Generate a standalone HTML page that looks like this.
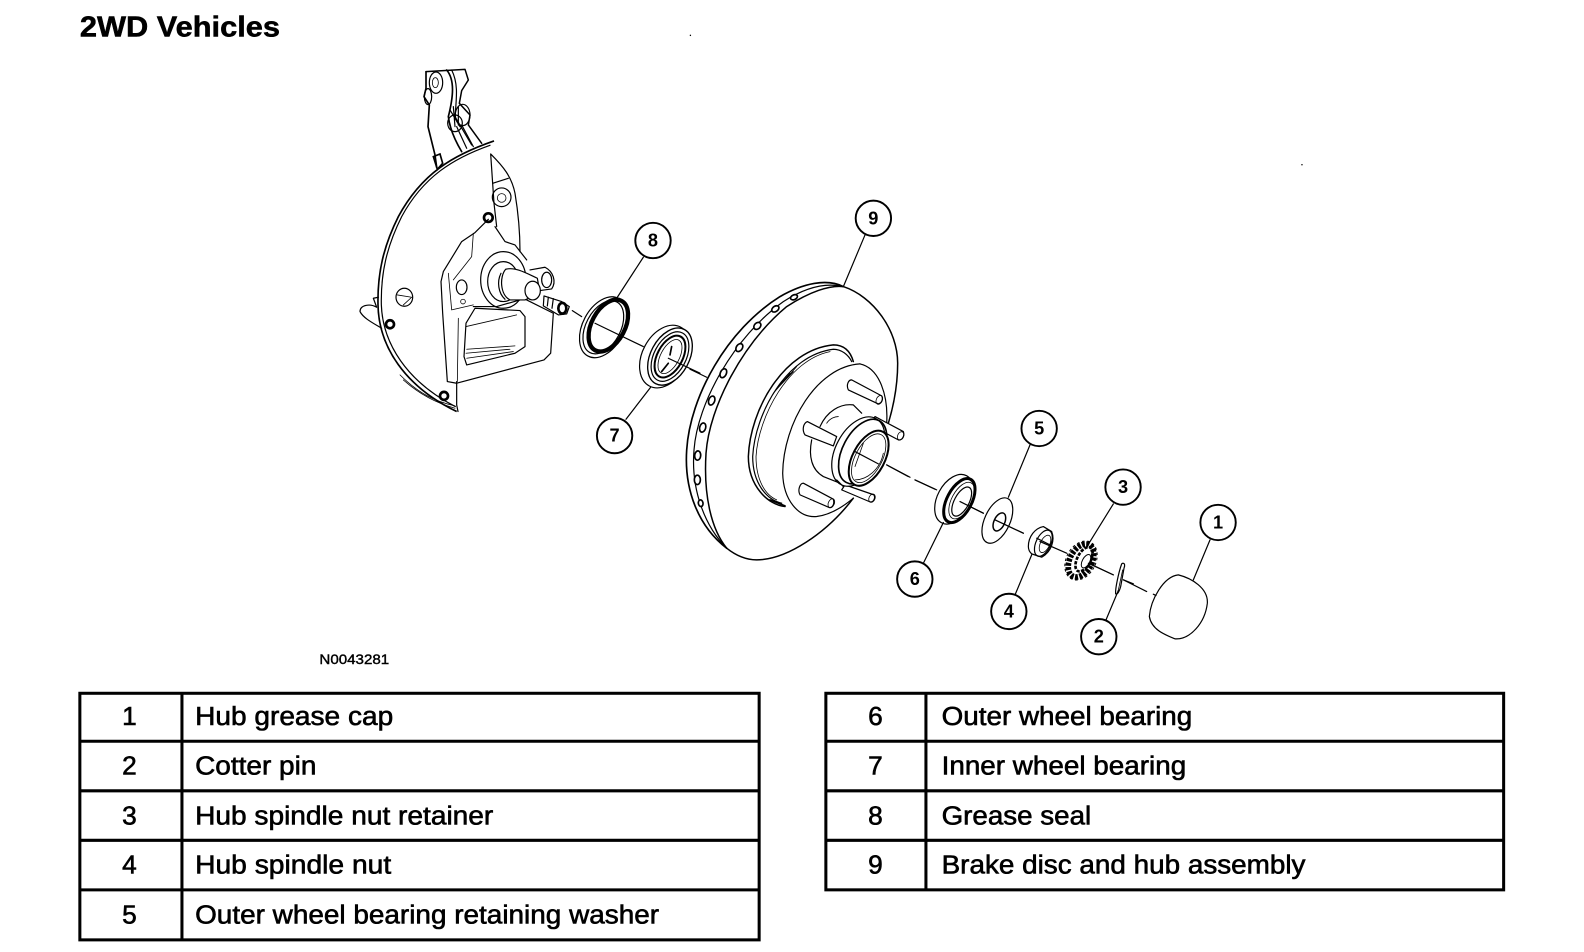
<!DOCTYPE html>
<html><head><meta charset="utf-8"><style>
html,body{margin:0;padding:0;background:#fff;width:1584px;height:952px;overflow:hidden}
svg{display:block}
text{font-family:"Liberation Sans",Arial,sans-serif;fill:#000}
.l{fill:none;stroke:#000;stroke-width:3.6;stroke-linejoin:round;stroke-linecap:round}
.t{fill:none;stroke:#000;stroke-width:2.4;stroke-linejoin:round;stroke-linecap:round}
.w{fill:#fff;stroke:#000;stroke-width:3.6;stroke-linejoin:round}
.c{fill:#fff;stroke:#000;stroke-width:1.9}
.n{font-size:18px;font-weight:bold;text-anchor:middle}
.d{font-size:26px;stroke:#000;stroke-width:.6}
.i{font-size:26px;text-anchor:middle;stroke:#000;stroke-width:.6}
</style></head><body>
<svg width="1584" height="952" viewBox="0 0 1567 942" preserveAspectRatio="none">
<text x="79" y="36" font-size="28" font-weight="bold" textLength="198" lengthAdjust="spacingAndGlyphs" stroke="#000" stroke-width=".5">2WD Vehicles</text>
<circle cx="683" cy="35" r=".7"/><circle cx="1288" cy="163" r=".7"/>

<g transform="scale(.9893)">
<!-- knuckle + shield -->
<g transform="translate(340,60) scale(.3333)">
<path class="l" style="stroke-width:4.5" d="M258,35 L375,28 L385,60 L365,92 L358,130 L390,165 L385,195 L425,250"/>
<path class="l" style="stroke-width:5" d="M258,35 L258,85 L252,110 L268,135 L264,200 L285,285 L290,322"/>
<path class="l" style="stroke-width:5" d="M320,30 C345,60 340,110 325,170 C330,210 350,250 365,275"/>
<path class="l" d="M335,30 C355,70 350,110 345,170 L395,255"/>
<path class="l" d="M350,200 L380,265 M365,195 L400,260 M330,150 L360,200 M340,140 L345,200 M355,140 L355,195"/>
<ellipse class="l" cx="288" cy="68" rx="20" ry="32"/><ellipse class="t" cx="286" cy="68" rx="9" ry="15"/>
<ellipse class="l" cx="264" cy="110" rx="11" ry="24"/>
<ellipse class="l" cx="368" cy="165" rx="22" ry="32"/>
<ellipse class="l" cx="345" cy="190" rx="22" ry="25"/>
<path d="M280,290 L300,282 L308,310 L292,328Z" fill="none" stroke="#000" stroke-width="5"/>
<!-- shield -->
<path fill="none" stroke="#000" stroke-width="5" d="M462,243 C340,285 245,340 175,470 C130,560 112,640 114,735 C116,860 195,980 350,1055"/>
<path class="l" d="M450,256 C340,295 250,350 185,470 C140,560 122,640 124,735 C128,850 200,965 346,1040"/>
<path class="l" d="M452,282 L462,430 L470,500 M452,282 C490,320 515,350 525,400 C535,460 540,520 540,575"/>
<path class="l" d="M458,370 L505,355"/>
<circle class="l" cx="485" cy="412" r="28"/><circle class="t" cx="485" cy="414" r="13"/>
<circle cx="445" cy="473" r="13" fill="none" stroke="#000" stroke-width="8"/>
<path class="l" d="M60,755 C60,735 90,730 110,742 L100,715 L115,712 M60,755 C70,775 100,790 125,805"/>
<circle cx="150" cy="793" r="12" fill="none" stroke="#000" stroke-width="8"/>
<ellipse class="l" cx="193" cy="712" rx="25" ry="27"/><path class="t" d="M172,705 L215,712 L190,735"/>
<circle cx="312" cy="1008" r="12" fill="none" stroke="#000" stroke-width="8"/>
<path class="l" d="M350,965 L350,1035 L354,1055"/>
<path class="t" d="M190,960 C240,1005 290,1030 345,1045 M180,945 C235,1000 285,1025 345,1038"/>
<!-- knuckle body -->
<path class="l" d="M445,478 L405,518 L365,545 L310,635 L303,665 L308,760 L322,965 L350,970 L612,900 L632,880 L640,760 L560,720 L520,690"/>
<path class="l" d="M465,500 L495,545 L525,555 L560,600"/>
<path class="t" d="M400,520 L395,590 L340,660 M325,640 L335,750 L400,735 M355,775 L352,965"/>
<path class="l" d="M378,790 L405,745 L540,752 L555,770 L555,860 L525,880 L380,915 L372,890 Z"/>
<path class="t" d="M378,800 L530,765 M380,868 L525,858 M378,880 L510,868 M380,895 L520,875"/>
<ellipse class="l" cx="365" cy="682" rx="16" ry="22"/><circle class="t" cx="369" cy="725" r="7"/>
<path class="l" d="M400,740 L470,740 L540,720"/>
<!-- spindle -->
<ellipse class="l" cx="490" cy="660" rx="68" ry="85"/>
<ellipse class="l" cx="490" cy="665" rx="47" ry="60"/>
<path class="l" d="M570,630 L615,622 C640,635 650,665 635,687 L600,692"/>
<ellipse class="l" cx="620" cy="660" rx="15" ry="23"/>
<path class="w" d="M497,628 C525,620 560,640 592,655 L600,700 L555,720 L510,720 C480,705 478,650 497,628Z"/>
<path class="l" d="M483,640 C470,665 475,700 495,718"/>
<ellipse class="w" cx="578" cy="692" rx="23" ry="28"/>
<path class="l" d="M612,708 L665,725 L688,740 L680,762 L655,765 L610,738 Z"/>
<path d="M625,712 L622,738 M640,716 L636,745" class="l"/>
<ellipse cx="667" cy="745" rx="12" ry="16" fill="none" stroke="#000" stroke-width="8"/>
<!-- seal 8 -->
<ellipse class="l" cx="790" cy="802" rx="62" ry="98" transform="rotate(28 790 802)"/>
<ellipse class="l" cx="790" cy="802" rx="52" ry="86" transform="rotate(28 790 802)"/>
<ellipse cx="805" cy="797" rx="50" ry="84" transform="rotate(28 805 797)" fill="none" stroke="#000" stroke-width="13"/>
<!-- bearing 7 -->
<ellipse class="l" cx="975" cy="890" rx="68" ry="100" transform="rotate(28 975 890)"/>
<ellipse cx="990" cy="890" rx="58" ry="92" transform="rotate(28 990 890)" fill="#fff" stroke="#000" stroke-width="4"/>
<ellipse class="l" cx="990" cy="890" rx="48" ry="80" transform="rotate(28 990 890)"/>
<ellipse class="l" style="stroke-width:6" cx="990" cy="890" rx="38" ry="68" transform="rotate(28 990 890)"/>
<ellipse class="t" cx="990" cy="890" rx="28" ry="56" transform="rotate(28 990 890)"/>
<path class="l" style="stroke-width:5" d="M995,860 L990,885 M985,910 L965,935"/>
<!-- axis -->
<path class="l" d="M697,752 L725,770 M765,790 L910,860 M985,895 L1080,940"/>
<!-- leaders -->
<path class="l" d="M910,592 L832,712 M932,982 L858,1078"/>
</g>

<!-- rotor -->
<g transform="translate(670,190) scale(.3333)">
<path class="l" style="stroke-width:4.5" d="M520,290 C610,320 683,420 683,520 C683,590 670,650 655,700"/>
<path class="l" style="stroke-width:4.5" d="M550,925 C470,1030 350,1110 260,1110 C225,1110 195,1095 170,1075"/>
<path class="l" style="stroke-width:5" d="M170,1075 C85,1010 42,900 50,780 C60,620 170,420 330,320 C400,280 470,265 520,290"/>
<path class="l" d="M170,1075 C105,1010 62,900 72,780 C82,640 192,440 340,335 C410,290 470,278 520,290"/>
<path class="l" style="stroke-width:4.5" d="M170,1075 C125,1020 100,920 108,790 C118,650 218,460 350,350 C420,305 480,285 520,290"/>
<g fill="#fff" stroke="#000" stroke-width="5">
<ellipse cx="372" cy="322" rx="11" ry="7" transform="rotate(-25 372 322)"/>
<ellipse cx="316" cy="357" rx="12" ry="8" transform="rotate(-35 316 357)"/>
<ellipse cx="262" cy="408" rx="12" ry="9" transform="rotate(-45 262 408)"/>
<ellipse cx="208" cy="473" rx="13" ry="9" transform="rotate(-55 208 473)"/>
<ellipse cx="160" cy="550" rx="14" ry="9" transform="rotate(-65 160 550)"/>
<ellipse cx="125" cy="632" rx="14" ry="9" transform="rotate(-70 125 632)"/>
<ellipse cx="98" cy="713" rx="14" ry="9" transform="rotate(-75 98 713)"/>
<ellipse cx="83" cy="797" rx="14" ry="9" transform="rotate(-85 83 797)"/>
<ellipse cx="82" cy="870" rx="14" ry="9" transform="rotate(-90 82 870)"/>
<ellipse cx="92" cy="940" rx="10" ry="7" transform="rotate(-100 92 940)"/>
</g>
<!-- hat back -->
<path class="l" style="stroke-width:4.5" d="M345,950 C295,945 235,890 235,800 C240,660 340,480 490,465 C520,465 540,480 550,515"/>
<path class="l" d="M335,940 C290,930 248,880 248,800 C255,670 350,495 490,478 C515,478 535,495 545,515"/>
<path class="t" d="M320,930 C285,915 258,870 258,800 C265,680 355,510 480,485"/>
<path class="t" d="M310,610 L380,530 M318,600 L370,545 M325,590 L360,550"/>
<path class="l" style="stroke-width:5" d="M300,930 L345,948"/>
<!-- hat front -->
<path class="l" d="M570,522 C440,530 340,700 338,850 C340,930 385,985 440,980 C480,975 520,950 550,925"/>
<path class="l" d="M570,522 C630,535 655,620 650,700"/>
<!-- studs -->
<path class="w" d="M545,570 L635,618 C640,628 635,640 625,642 L535,600 C528,585 535,570 545,570Z"/>
<ellipse class="t" cx="628" cy="630" rx="9" ry="14" transform="rotate(25 628 630)"/>
<path class="w" d="M412,695 L500,740 L490,768 L405,735 C395,720 400,700 412,695Z"/>
<path class="w" d="M615,680 L700,725 C705,740 695,752 685,750 L600,705 Z"/>
<ellipse class="t" cx="692" cy="738" rx="9" ry="13" transform="rotate(25 692 738)"/>
<path class="w" d="M400,880 L490,928 C495,945 485,955 478,953 L390,915 C382,900 390,880 400,880Z"/>
<ellipse class="t" cx="484" cy="940" rx="9" ry="14" transform="rotate(25 484 940)"/>
<path class="w" d="M525,885 L612,915 C617,925 610,938 600,936 L515,900 Z"/>
<ellipse class="t" cx="606" cy="925" rx="9" ry="13" transform="rotate(25 606 925)"/>
<!-- hub -->
<path class="l" d="M450,710 C470,665 510,640 550,645 L575,670 M425,750 C415,800 425,840 460,860 L510,880"/>
<path class="t" d="M470,700 C480,685 495,680 505,680"/>
<ellipse class="w" cx="565" cy="785" rx="68" ry="112" transform="rotate(28 565 785)"/>
<ellipse class="l" style="stroke-width:5" cx="578" cy="785" rx="60" ry="105" transform="rotate(28 578 785)"/>
<ellipse class="w" style="stroke-width:6" cx="596" cy="805" rx="48" ry="90" transform="rotate(28 596 805)"/>
<ellipse class="t" cx="596" cy="805" rx="40" ry="80" transform="rotate(28 596 805)"/>
<path class="t" d="M580,760 L555,830 M640,790 C630,840 590,870 555,870"/>
<path class="l" d="M555,785 L625,822 M650,825 L715,860 M735,870 L800,900 M60,538 L110,562"/>
<path class="l" d="M585,135 L520,290 M500,870 L520,890"/>
</g>

<!-- small parts -->
<g transform="translate(880,400) scale(.3333)">
<path class="l" d="M20,195 L90,232 M105,240 L165,268 M240,305 L310,340 M345,360 L430,400 M480,425 L560,460 M625,490 L700,525 M730,540 L800,575 M820,583 L828,587"/>
<!-- bearing 6 -->
<ellipse class="l" cx="222" cy="298" rx="50" ry="80" transform="rotate(28 222 298)"/>
<ellipse cx="238" cy="302" rx="37" ry="72" transform="rotate(28 238 302)" fill="#fff" stroke="#000" stroke-width="9"/>
<ellipse class="t" cx="245" cy="302" rx="30" ry="60" transform="rotate(28 245 302)"/>
<ellipse class="l" cx="245" cy="305" rx="22" ry="48" transform="rotate(28 245 305)"/>
<path class="l" d="M240,305 L310,340"/>
<!-- washer 5 -->
<ellipse class="l" cx="352" cy="362" rx="38" ry="73" transform="rotate(25 352 362)"/>
<ellipse class="l" style="stroke-width:4.5" cx="358" cy="366" rx="16" ry="29" transform="rotate(25 358 366)"/>
<path class="l" d="M345,360 L430,400"/>
<!-- nut 4 -->
<path class="l" d="M445,440 C445,410 465,385 490,380 L515,395 C525,420 515,455 485,472 L455,462 C447,455 445,448 445,440Z"/>
<ellipse class="l" cx="490" cy="430" rx="22" ry="42" transform="rotate(25 490 430)"/>
<ellipse class="t" cx="495" cy="432" rx="14" ry="28" transform="rotate(25 495 432)"/>
<path class="l" d="M470,415 L510,435"/>
<!-- retainer 3 -->
<ellipse cx="603" cy="482" rx="33" ry="53" transform="rotate(28 603 482)" fill="none" stroke="#000" stroke-width="17" stroke-dasharray="9 4"/>
<ellipse cx="612" cy="478" rx="20" ry="40" transform="rotate(28 612 478)" fill="none" stroke="#000" stroke-width="8" stroke-dasharray="10 4"/>
<ellipse cx="603" cy="482" rx="44" ry="62" transform="rotate(28 603 482)" fill="none" stroke="#000" stroke-width="3" stroke-dasharray="8 8"/>
<ellipse cx="618" cy="484" rx="11" ry="22" transform="rotate(28 618 484)" fill="#fff" stroke="#000" stroke-width="3"/>
<path class="l" d="M625,490 L700,525"/>
<!-- cotter 2 -->
<path class="l" d="M728,490 C735,490 735,497 732,505 L722,560 C718,575 712,585 707,582 C705,570 715,520 725,492Z"/>
<path class="t" d="M728,510 L714,575"/>
<path class="l" d="M730,540 L760,552"/>
<!-- cap 1 -->
<path class="l" d="M895,525 C935,535 985,565 982,610 C975,670 930,720 885,717 C855,705 815,690 808,650 C812,600 850,530 895,525Z"/>
<path class="l" d="M450,135 L385,292 M700,312 L630,425 M990,420 L940,540 M190,368 L130,490 M455,465 L405,585 M715,572 L678,660"/>
</g>
</g>

<!-- callouts -->
<g>
<circle class="c" cx="864" cy="216" r="17.5"/><text class="n" x="864" y="222">9</text>
<circle class="c" cx="646" cy="238" r="17.5"/><text class="n" x="646" y="244">8</text>
<circle class="c" cx="608" cy="431" r="17.5"/><text class="n" x="608" y="437">7</text>
<circle class="c" cx="1028" cy="424" r="17.5"/><text class="n" x="1028" y="430">5</text>
<circle class="c" cx="1111" cy="482" r="17.5"/><text class="n" x="1111" y="488">3</text>
<circle class="c" cx="1205" cy="517" r="17.5"/><text class="n" x="1205" y="523">1</text>
<circle class="c" cx="905" cy="573" r="17.5"/><text class="n" x="905" y="579">6</text>
<circle class="c" cx="998" cy="605" r="17.5"/><text class="n" x="998" y="611">4</text>
<circle class="c" cx="1087" cy="630" r="17.5"/><text class="n" x="1087" y="636">2</text>
</g>
<text x="316" y="657" font-size="14" textLength="69" lengthAdjust="spacingAndGlyphs" stroke="#000" stroke-width=".4">N0043281</text>

<!-- tables -->
<g fill="none" stroke="#000" stroke-width="3">
<rect x="79" y="686" width="672" height="244"/>
<path d="M79,733.500H751M79,782.500H751M79,831.500H751M79,880.500H751M180,686V930"/>
<rect x="817" y="686" width="670.500" height="194.500"/>
<path d="M817,733.500H1487.500M817,782.500H1487.500M817,831.500H1487.500M916,686V880"/>
</g>
<text class="i" x="128" y="717.500">1</text>
<text class="i" x="128" y="766.500">2</text>
<text class="i" x="128" y="816">3</text>
<text class="i" x="128" y="864.500">4</text>
<text class="i" x="128" y="914">5</text>
<text class="d" x="193" y="717.500" textLength="196" lengthAdjust="spacingAndGlyphs">Hub grease cap</text>
<text class="d" x="193" y="766.500" textLength="120" lengthAdjust="spacingAndGlyphs">Cotter pin</text>
<text class="d" x="193" y="816" textLength="295" lengthAdjust="spacingAndGlyphs">Hub spindle nut retainer</text>
<text class="d" x="193" y="864.500" textLength="194" lengthAdjust="spacingAndGlyphs">Hub spindle nut</text>
<text class="d" x="193" y="914" textLength="459" lengthAdjust="spacingAndGlyphs">Outer wheel bearing retaining washer</text>
<text class="i" x="866" y="717.500">6</text>
<text class="i" x="866" y="766.500">7</text>
<text class="i" x="866" y="816">8</text>
<text class="i" x="866" y="864.500">9</text>
<text class="d" x="931.500" y="717.500" textLength="248" lengthAdjust="spacingAndGlyphs">Outer wheel bearing</text>
<text class="d" x="931.500" y="766.500" textLength="242" lengthAdjust="spacingAndGlyphs">Inner wheel bearing</text>
<text class="d" x="931.500" y="816" textLength="148" lengthAdjust="spacingAndGlyphs">Grease seal</text>
<text class="d" x="931.500" y="864.500" textLength="360" lengthAdjust="spacingAndGlyphs">Brake disc and hub assembly</text>
</svg>
</body></html>
